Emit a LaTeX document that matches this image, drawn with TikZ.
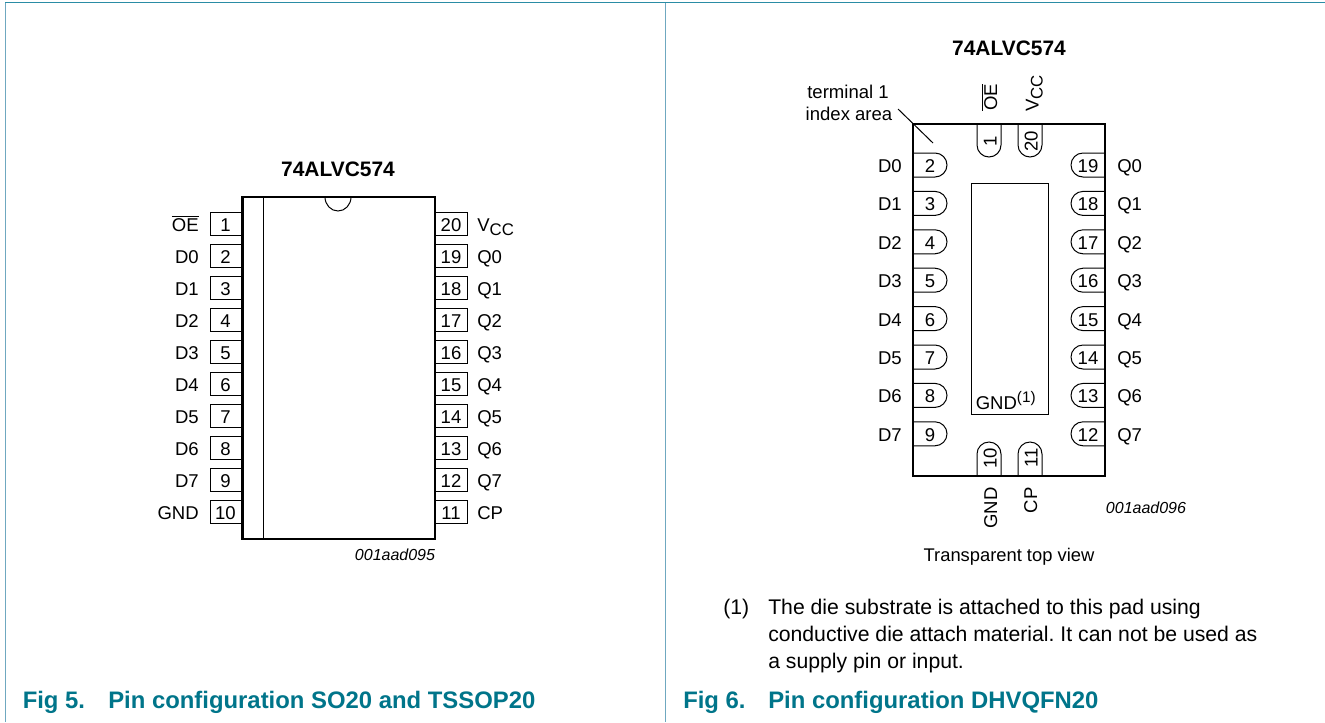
\documentclass[tikz,border=0pt]{standalone}
\usepackage{fontspec}
\setmainfont{Liberation Sans}
\definecolor{framec}{HTML}{6FA8C0}
\definecolor{frametop}{HTML}{2A8CA5}
\definecolor{capc}{HTML}{00758A}
\newcommand{\lblfont}{\fontsize{13.9pt}{16pt}\selectfont}
\newcommand{\oebar}{$\overline{\hbox{OE}}$}
\newcommand{\vcclab}{V\raisebox{-3pt}{\fontsize{12.6pt}{14pt}\selectfont CC}}
\tikzset{x=0.75pt,y=-0.75pt,
 panel/.style={draw=framec,line width=1.1pt},
 paneltop/.style={draw=frametop,line width=1.1pt},
 ic/.style={draw=black,line width=1.6pt},
 pinline/.style={draw=black,line width=0.75pt},
 lbl/.style={font=\lblfont,inner sep=0pt,text=black},
 lblr/.style={lbl,anchor=base east},
 lbll/.style={lbl,anchor=base west},
 lblc/.style={lbl,anchor=base},
 ttl/.style={font=\fontsize{15.7pt}{18pt}\selectfont\bfseries,inner sep=0pt,anchor=base},
 code/.style={font=\fontsize{12pt}{14pt}\selectfont\itshape,inner sep=0pt,anchor=base},
 figcap/.style={font=\fontsize{17.9pt}{20pt}\selectfont\bfseries,text=capc,inner sep=0pt,anchor=base west},
 note/.style={font=\fontsize{15.9pt}{20pt}\selectfont\frenchspacing,inner sep=0pt,anchor=base west},
}
\begin{document}
\begin{tikzpicture}
\useasboundingbox (0,0) rectangle (1325,722);
\fill[white] (0,0) rectangle (1325,722);
% panels
\draw[panel] (5.5,722) -- (5.5,2.5);
\draw[panel] (665.5,2.5) -- (665.5,722);
\draw[paneltop] (5,2.5) -- (1325,2.5);
% ---- left IC
\node[ttl] (t1) at (338,176) {74ALVC574};
\foreach \n/\lab [count=\i from 0] in {1/{\oebar},2/D0,3/D1,4/D2,5/D3,6/D4,7/D5,8/D6,9/D7,10/GND}{
  \pgfmathsetmacro\yy{212+32*\i}
  \draw[pinline] (242,\yy) -- (210,\yy) -- (210,\yy+23) -- (242,\yy+23);
  \node[lblc] (ln\n) at (225.5,\yy+19) {\n};
  \node[lblr] (ll\n) at (199,\yy+19) {\lab};
}
\foreach \n/\lab [count=\i from 0] in {20/{\vcclab},19/Q0,18/Q1,17/Q2,16/Q3,15/Q4,14/Q5,13/Q6,12/Q7,11/CP}{
  \pgfmathsetmacro\yy{212+32*\i}
  \draw[pinline] (435,\yy) -- (467,\yy) -- (467,\yy+23) -- (435,\yy+23);
  \node[lblc] (rn\n) at (451,\yy+19) {\n};
  \node[lbll] (rl\n) at (477,\yy+19) {\lab};
}
\draw[pinline] (263.7,197) -- (263.7,539);
\draw[pinline] (325,197) arc[start angle=180,end angle=360,x radius=13,y radius=-14];
\draw[ic] (242.5,197) rectangle (435,539);
\node[code] (c1) at (395,560) {001aad095};
\node[figcap] (f5a) at (22.5,708) {Fig 5.};
\node[figcap] (f5b) at (108,708) {Pin configuration SO20 and TSSOP20};
% ---- right IC
\node[ttl] (t2) at (1009,55) {74ALVC574};
\node[lblc] (term1) at (848,98) {terminal 1};
\node[lblc] (term2) at (849,120) {index area};
\draw[pinline] (898,109) -- (933,143);
\foreach \n/\lab [count=\i from 0] in {2/D0,3/D1,4/D2,5/D3,6/D4,7/D5,8/D6,9/D7}{
  \pgfmathsetmacro\yy{153+38.4*\i}
  \draw[pinline] (913,\yy) -- (935,\yy) arc[start angle=90,end angle=-90,x radius=12,y radius=-12] -- (913,\yy+24);
  \node[lblc] (qln\n) at (930,\yy+19.5) {\n};
  \node[lblr] (qll\n) at (902,\yy+19.5) {\lab};
}
\foreach \n/\lab [count=\i from 0] in {19/Q0,18/Q1,17/Q2,16/Q3,15/Q4,14/Q5,13/Q6,12/Q7}{
  \pgfmathsetmacro\yy{153+38.4*\i}
  \draw[pinline] (1105,\yy) -- (1083,\yy) arc[start angle=90,end angle=270,x radius=12,y radius=-12] -- (1105,\yy+24);
  \node[lblc] (qrn\n) at (1088,\yy+19.5) {\n};
  \node[lbll] (qrl\n) at (1117,\yy+19.5) {\lab};
}
% top pins
\foreach \xx/\n in {977/1,1018/20}{
  \draw[pinline] (\xx,124) -- (\xx,145) arc[start angle=180,end angle=360,x radius=12,y radius=-12] -- (\xx+24,124);
  \node[lbl,rotate=90,anchor=base] (qtn\n) at (\xx+19.5,141) {\n};
}
\node[lbl,rotate=90,anchor=base west] (qoe) at (997,111) {\oebar};
\node[lbl,rotate=90,anchor=base west] (qvcc) at (1038.5,112) {\vcclab};
% bottom pins
\foreach \xx/\n in {977/10,1018/11}{
  \draw[pinline] (\xx,476) -- (\xx,454) arc[start angle=180,end angle=0,x radius=12,y radius=-12] -- (\xx+24,476);
  \node[lbl,rotate=90,anchor=base] (qbn\n) at (\xx+19.5,458) {\n};
}
\node[lbl,rotate=90,anchor=base east] (qgnd) at (997,487) {GND};
\node[lbl,rotate=90,anchor=base east] (qcp) at (1037,487) {CP};
% die pad
\draw[pinline] (971,183) rectangle (1048,414);
\node[lbl,anchor=base west] (qg) at (975.5,409) {GND\raisebox{5pt}{\fontsize{11.5pt}{13pt}\selectfont (1)}};
\draw[ic] (913,124) rectangle (1105,476);
\node[code] (c2) at (1146,513) {001aad096};
\node[font=\fontsize{13.76pt}{16pt}\selectfont,inner sep=0pt,anchor=base] (tv) at (1009,561) {Transparent top view};
\node[note] (n0) at (723,614) {(1)};
\node[note] (n1) at (768,614) {The die substrate is attached to this pad using};
\node[note] (n2) at (768,641) {conductive die attach material. It can not be used as};
\node[note] (n3) at (768,668) {a supply pin or input.};
\node[figcap] (f6a) at (683,708) {Fig 6.};
\node[figcap] (f6b) at (768,708) {Pin configuration DHVQFN20};
\end{tikzpicture}
\end{document}
